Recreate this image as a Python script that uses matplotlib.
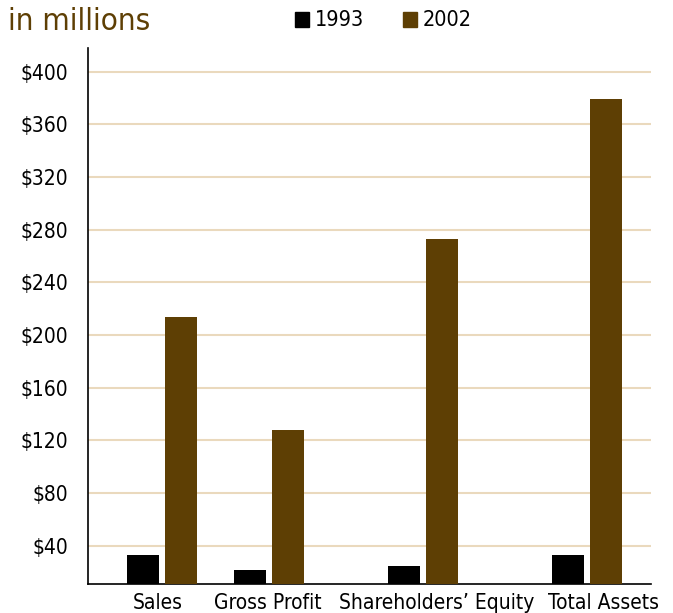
import matplotlib.pyplot as plt
from matplotlib.patches import Rectangle

categories = ["Sales", "Gross Profit", "Shareholders\u2019 Equity", "Total Assets"]
values_1993 = [33, 22, 25, 33]
values_2002 = [214, 128, 273, 379]
y_ticks = [40, 80, 120, 160, 200, 240, 280, 320, 360, 400]
y_labels = [f"${v}" for v in y_ticks]

col_1993 = "#000000"
col_2002 = "#5e3f04"
grid_col = "#ead9bd"
font = dict(family="DejaVu Sans", stretch="condensed")

# horizontal layout in pixel-like units across the plot area
group_x = [162, 269, 423, 587]
label_x = [158, 268, 437, 604]
bar_w = 32
offset = 19

fig = plt.figure(figsize=(6.73, 6.13), dpi=100)
ax = fig.add_axes([88 / 673, (613 - 584) / 613, (651 - 88) / 673, (584 - 48) / 613])

ax.bar([x - offset for x in group_x], values_1993, width=bar_w, color=col_1993, zorder=3)
ax.bar([x + offset for x in group_x], values_2002, width=bar_w, color=col_2002, zorder=3)

ax.set_xlim(88, 651)
ax.set_ylim(11, 418)
ax.set_yticks(y_ticks)
ax.set_yticklabels(y_labels, fontsize=15, **font)
ax.tick_params(axis="y", length=0, pad=14)
ax.set_xticks([])
for v in y_ticks:
    ax.axhline(v, color=grid_col, lw=1.5, zorder=1)

for sp in ["top", "right"]:
    ax.spines[sp].set_visible(False)
ax.spines["left"].set_linewidth(1.2)
ax.spines["bottom"].set_linewidth(1.2)

for x, lab in zip(label_x, categories):
    ax.text(x, -0.036, lab, transform=ax.get_xaxis_transform(), ha="center", va="center",
            fontsize=15, **font)

# title and legend in figure pixel coordinates
fig.text(8 / 673, 1 - 21 / 613, "in millions", color=col_2002, fontsize=22.5,
         ha="left", va="center", **font)
for x0, col, lab in [(295, col_1993, "1993"), (403, col_2002, "2002")]:
    fig.patches.append(Rectangle((x0 / 673, 1 - 27 / 613), 14 / 673, 15 / 613,
                                 color=col, transform=fig.transFigure))
    fig.text((x0 + 20) / 673, 1 - 20 / 613, lab, fontsize=15.5, ha="left", va="center",
             **font)

fig.savefig("out.png", dpi=100)
